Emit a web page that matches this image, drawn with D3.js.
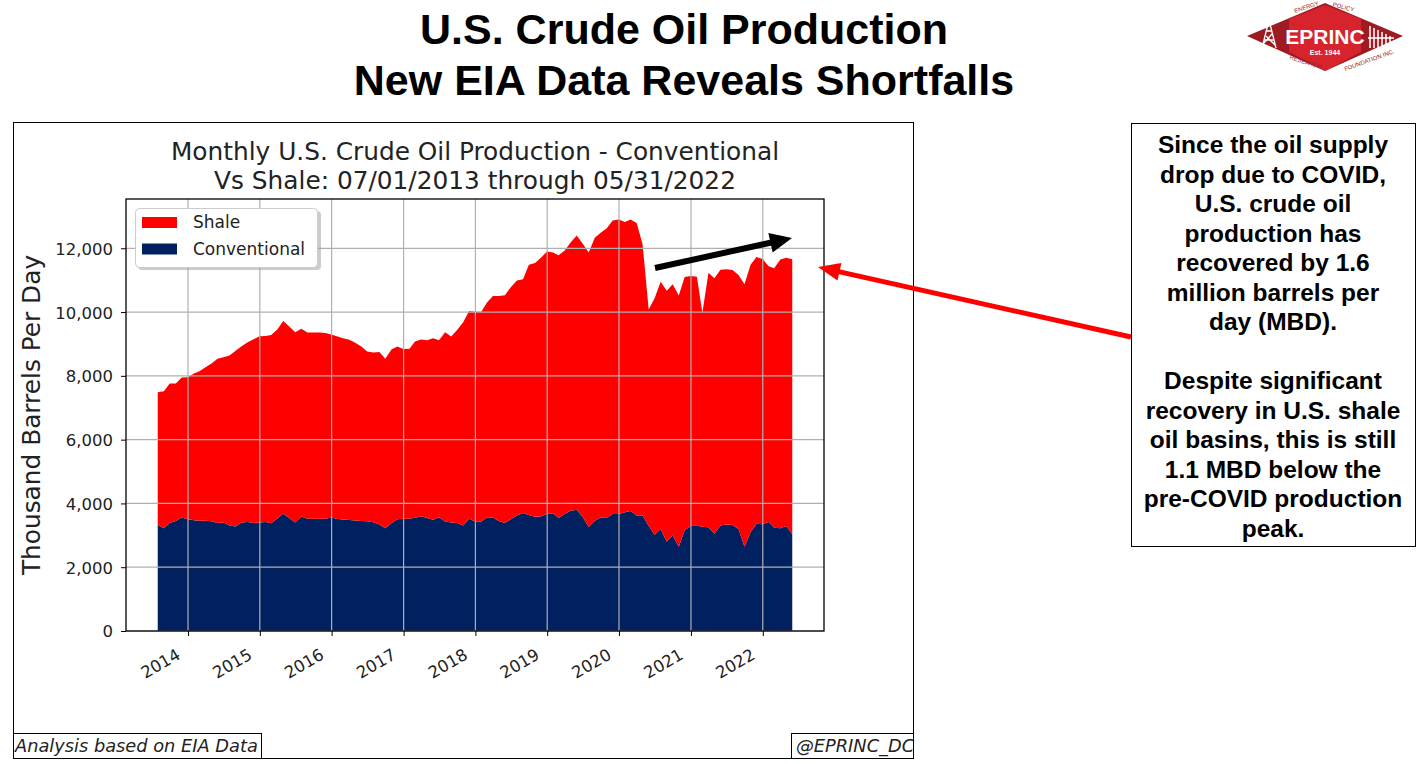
<!DOCTYPE html>
<html>
<head>
<meta charset="utf-8">
<script src="https://cdn.jsdelivr.net/npm/d3@7"></script>
<style>
  body { margin: 0; background: #fff; }
  svg text { fill: #000; }
</style>
</head>
<body>
<script>
// monthly values, thousand barrels per day (Jul 2013 .. May 2022)
const firstMonth = "2013-07";
const conventional = [
  3330, 3225, 3383, 3450, 3560, 3500, 3470, 3455, 3460, 3440,
  3385, 3400, 3307, 3280, 3400, 3420, 3390, 3400, 3420, 3380,
  3530, 3675, 3540, 3400, 3590, 3518, 3518, 3518, 3518, 3560,
  3508, 3495, 3480, 3465, 3450, 3440, 3410, 3340, 3225, 3380,
  3500, 3518, 3518, 3550, 3600, 3540, 3490, 3570, 3430, 3400,
  3385, 3310, 3518, 3435, 3430, 3560, 3555, 3450, 3390, 3500,
  3620, 3700, 3640, 3580, 3590, 3680, 3690, 3540, 3670, 3770,
  3800, 3580, 3260, 3460, 3560, 3545, 3670, 3670, 3720, 3760,
  3620, 3620, 3300, 3020, 3200, 2800, 2993, 2640, 3160, 3290,
  3300, 3270, 3250, 3050, 3310, 3340, 3320, 3200, 2640, 3100,
  3360, 3350, 3420, 3240, 3225, 3290, 3030
];
const shale = [
  4155, 4292, 4377, 4310, 4387, 4460, 4600, 4691, 4810, 4948,
  5150, 5180, 5333, 5510, 5530, 5630, 5760, 5845, 5830, 5900,
  5920, 6041, 6010, 5970, 5887, 5842, 5842, 5842, 5822, 5738,
  5722, 5685, 5650, 5575, 5470, 5320, 5320, 5410, 5310, 5450,
  5420, 5322, 5332, 5530, 5541, 5580, 5690, 5550, 5940, 5830,
  6055, 6370, 6512, 6575, 6580, 6730, 6945, 7050, 7140, 7280,
  7370, 7330, 7840, 7960, 8110, 8220, 8180, 8240, 8260, 8408,
  8600, 8570, 8610, 8870, 8930, 9085, 9200, 9230, 9100, 9140,
  9170, 8506, 6780, 7410, 7750, 7870, 7876, 7880, 7940, 7840,
  7811, 6710, 7986, 8010, 8020, 8000, 8000, 7960, 8229, 8380,
  8370, 8310, 8020, 8131, 8425, 8410, 8624
];
const yTicks = [0, 2000, 4000, 6000, 8000, 10000, 12000];
const legendNames = ["Shale", "Conventional"];
const colors = { Shale: "#ff0000", Conventional: "#002060" };

const noteLines = [
  "Since the oil supply", "drop due to COVID,", "U.S. crude oil", "production has",
  "recovered by 1.6", "million barrels per", "day (MBD).", "",
  "Despite significant", "recovery in U.S. shale", "oil basins, this is still",
  "1.1 MBD below the", "pre-COVID production", "peak."
];

const W = 1427, H = 764;
const plot = { left: 126, right: 824, top: 199, bottom: 631 };
const mono = "'DejaVu Sans', sans-serif";
const arial = "'Liberation Sans', Arial, sans-serif";

const svg = d3.select("body").append("svg")
    .attr("width", W)
    .attr("height", H);

// data rows, month-end dates
const start = d3.timeParse("%Y-%m")(firstMonth);
const data = conventional.map((c, i) => ({
    date: d3.timeDay.offset(d3.timeMonth.offset(start, i + 1), -1),
    Conventional: c,
    Shale: shale[i]
}));

const ext = d3.extent(data, d => d.date);
const span = ext[1] - ext[0];
const x = d3.scaleTime()
    .domain([new Date(+ext[0] - 0.05 * span), new Date(+ext[1] + 0.05 * span)])
    .range([plot.left, plot.right]);

const yMax = d3.max(data, d => d.Conventional + d.Shale) * 1.05;
const y = d3.scaleLinear()
    .domain([0, yMax])
    .range([plot.bottom, plot.top]);

// main title
svg.append("text")
    .attr("x", 684).attr("y", 44)
    .attr("text-anchor", "middle")
    .style("font-family", arial).style("font-weight", "bold").style("font-size", "43px")
    .text("U.S. Crude Oil Production");
svg.append("text")
    .attr("x", 684).attr("y", 95)
    .attr("text-anchor", "middle")
    .style("font-family", arial).style("font-weight", "bold").style("font-size", "43px")
    .text("New EIA Data Reveals Shortfalls");

// logo
const logo = svg.append("g");
logo.append("polygon")
    .attr("points", "1247,36 1325,3 1403,36 1325,71")
    .attr("fill", "#9e1b22");
logo.append("polygon")
    .attr("points", "1289,19 1325,5 1361,19 1361,52 1325,71 1289,52")
    .attr("fill", "#d7232b");
// derrick
logo.append("path")
    .attr("d", "M1262,48 L1269,20 L1276,48 M1264,40 L1274,40 M1266,31 L1272,31 M1263,44 L1272,34 M1266,36 L1275,45")
    .attr("stroke", "#fff").attr("stroke-width", 1.3).attr("fill", "none");
// bars
logo.append("path")
    .attr("d", "M1370,48 V26 M1374,48 V28 M1378,48 V30 M1382,48 V32 M1386,48 V34 M1390,48 V36 M1368,38 H1394")
    .attr("stroke", "#fff").attr("stroke-width", 1.5).attr("fill", "none");
logo.append("text")
    .attr("x", 1325).attr("y", 44).attr("text-anchor", "middle")
    .style("font-family", "'Liberation Sans Narrow', " + arial).style("font-weight", "bold")
    .style("font-size", "21px").style("fill", "#fff")
    .text("EPRINC");
logo.append("text")
    .attr("x", 1325).attr("y", 55).attr("text-anchor", "middle")
    .style("font-family", arial).style("font-weight", "bold")
    .style("font-size", "7px").style("fill", "#fff")
    .text("Est. 1944");
[["ENERGY", 1307, 9, -18], ["POLICY", 1343, 9, 15], ["RESEARCH", 1305, 64, 18], ["FOUNDATION INC.", 1370, 62, -20]]
    .forEach(([t, lx, ly, r]) => {
        logo.append("text")
            .attr("transform", `translate(${lx},${ly}) rotate(${r})`)
            .attr("text-anchor", "middle")
            .style("font-family", arial).style("font-size", "6px").style("fill", "#9e1b22")
            .text(t);
    });

// chart frame
svg.append("rect")
    .attr("x", 13.5).attr("y", 122.5).attr("width", 900).attr("height", 636)
    .attr("fill", "none").attr("stroke", "#000").attr("stroke-width", 1);

// chart title
svg.append("text")
    .attr("x", 475).attr("y", 160).attr("text-anchor", "middle")
    .style("font-family", mono).style("font-size", "24.8px").style("fill", "#222")
    .text("Monthly U.S. Crude Oil Production - Conventional");
svg.append("text")
    .attr("x", 475).attr("y", 189).attr("text-anchor", "middle")
    .style("font-family", mono).style("font-size", "24.8px").style("fill", "#222")
    .text("Vs Shale: 07/01/2013 through 05/31/2022");

// stacked areas
const stack = d3.stack().keys(["Conventional", "Shale"]);
const layers = stack(data);
const area = d3.area()
    .x(d => x(d.data.date))
    .y0(d => y(d[0]))
    .y1(d => y(d[1]));

svg.append("g")
    .selectAll("path")
    .data(layers)
    .join("path")
    .attr("d", area)
    .attr("fill", d => colors[d.key]);

// grid on top of the fill
const grid = svg.append("g").attr("stroke", "#b0b0b0").attr("stroke-width", 1.2);
grid.selectAll("line.gx")
    .data(x.ticks(d3.timeYear.every(1)))
    .join("line")
    .attr("class", "gx")
    .attr("x1", d => x(d)).attr("x2", d => x(d))
    .attr("y1", plot.top).attr("y2", plot.bottom);
grid.selectAll("line.gy")
    .data(yTicks)
    .join("line")
    .attr("class", "gy")
    .attr("x1", plot.left).attr("x2", plot.right)
    .attr("y1", d => y(d)).attr("y2", d => y(d));

// plot border
svg.append("rect")
    .attr("x", plot.left).attr("y", plot.top)
    .attr("width", plot.right - plot.left).attr("height", plot.bottom - plot.top)
    .attr("fill", "none").attr("stroke", "#000").attr("stroke-width", 1.3);

// axes
const xAxis = d3.axisBottom(x)
    .ticks(d3.timeYear.every(1))
    .tickFormat(d3.timeFormat("%Y"))
    .tickSize(5);
const gx = svg.append("g")
    .attr("transform", "translate(0," + plot.bottom + ")")
    .call(xAxis);
gx.select(".domain").remove();
gx.selectAll("text")
    .attr("x", 0).attr("y", 0).attr("dy", 0)
    .attr("text-anchor", "end")
    .attr("transform", "translate(-7,27) rotate(-30)")
    .style("font-family", mono).style("font-size", "16.5px").style("fill", "#222");

const yAxis = d3.axisLeft(y)
    .tickValues(yTicks)
    .tickFormat(d3.format(","))
    .tickSize(5)
    .tickPadding(8);
const gy = svg.append("g")
    .attr("transform", "translate(" + plot.left + ",0)")
    .call(yAxis);
gy.select(".domain").remove();
gy.selectAll("text")
    .attr("dy", "0.36em")
    .style("font-family", mono).style("font-size", "16.5px").style("fill", "#222");

svg.append("text")
    .attr("transform", "rotate(-90)")
    .attr("x", -(plot.top + plot.bottom) / 2)
    .attr("y", 40)
    .attr("text-anchor", "middle")
    .style("font-family", mono).style("font-size", "24.8px").style("fill", "#222")
    .text("Thousand Barrels Per Day");

// legend
const lg = svg.append("g");
lg.append("rect")
    .attr("x", 138).attr("y", 211).attr("width", 183).attr("height", 59).attr("rx", 4)
    .attr("fill", "#999").attr("opacity", 0.5);
lg.append("rect")
    .attr("x", 135.5).attr("y", 208.5).attr("width", 182).attr("height", 59).attr("rx", 4)
    .attr("fill", "#fff").attr("stroke", "#ccc");
lg.selectAll("g.item")
    .data(legendNames)
    .join("g")
    .attr("class", "item")
    .attr("transform", (d, i) => `translate(142,${217 + i * 26.5})`)
    .each(function (d) {
        const g = d3.select(this);
        g.append("rect").attr("width", 35).attr("height", 11).attr("fill", colors[d]);
        g.append("text").attr("x", 51).attr("y", 11)
            .style("font-family", mono).style("font-size", "17px").style("fill", "#222")
            .text(d);
    });

// trend arrow
function arrow(x1, y1, x2, y2, color, width, headLen, headHalf) {
    const dx = x2 - x1, dy = y2 - y1, len = Math.hypot(dx, dy);
    const ux = dx / len, uy = dy / len, nx = -uy, ny = ux;
    const bx = x2 - ux * headLen, by = y2 - uy * headLen;
    svg.append("line")
        .attr("x1", x1).attr("y1", y1).attr("x2", bx + ux * 2).attr("y2", by + uy * 2)
        .attr("stroke", color).attr("stroke-width", width);
    svg.append("polygon")
        .attr("points", [[x2, y2], [bx + nx * headHalf, by + ny * headHalf], [bx - nx * headHalf, by - ny * headHalf]].map(p => p.join(",")).join(" "))
        .attr("fill", color);
}
arrow(655, 268, 792, 238, "#000", 6, 22, 10);
arrow(1131, 337, 818, 267, "#ff0000", 5, 22, 9);

// footer labels
svg.append("rect")
    .attr("x", 13.5).attr("y", 733.5).attr("width", 248).attr("height", 25)
    .attr("fill", "#fff").attr("stroke", "#000");
svg.append("text")
    .attr("x", 15).attr("y", 752)
    .style("font-family", mono).style("font-style", "italic").style("font-size", "17.8px").style("fill", "#222")
    .text("Analysis based on EIA Data");
svg.append("rect")
    .attr("x", 791.5).attr("y", 733.5).attr("width", 122).attr("height", 25)
    .attr("fill", "#fff").attr("stroke", "#000");
svg.append("text")
    .attr("x", 796).attr("y", 752)
    .style("font-family", mono).style("font-style", "italic").style("font-size", "17.8px").style("fill", "#222")
    .text("@EPRINC_DC");

// note box
svg.append("rect")
    .attr("x", 1131.5).attr("y", 123.5).attr("width", 284).attr("height", 423)
    .attr("fill", "#fff").attr("stroke", "#000");
svg.append("g")
    .selectAll("text")
    .data(noteLines)
    .join("text")
    .attr("x", 1273)
    .attr("y", (d, i) => 153 + i * 29.5)
    .attr("text-anchor", "middle")
    .style("font-family", arial).style("font-weight", "bold").style("font-size", "24.5px")
    .text(d => d);
</script>
</body>
</html>
